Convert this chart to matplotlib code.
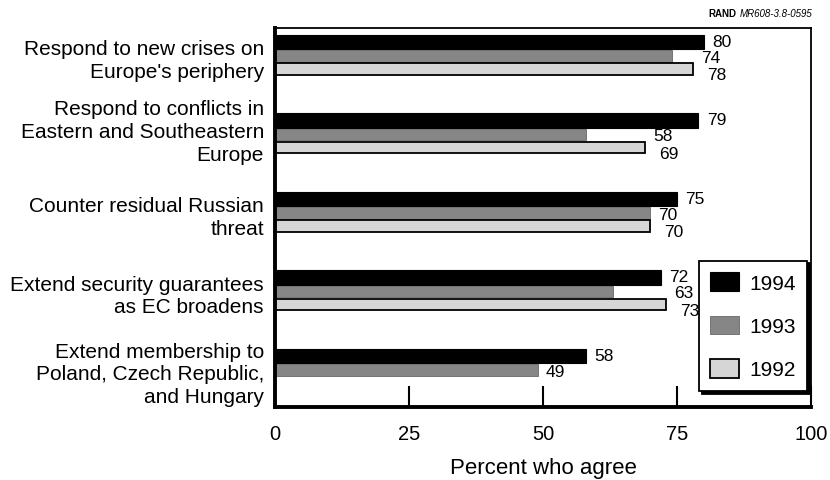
import matplotlib
matplotlib.use("Agg")
import matplotlib.pyplot as plt
import matplotlib.transforms as mtransforms
import numpy as np

plt.rcParams['font.family'] = ['Liberation Sans', 'DejaVu Sans']

categories = [
    "Respond to new crises on\nEurope's periphery",
    "Respond to conflicts in\nEastern and Southeastern\nEurope",
    "Counter residual Russian\nthreat",
    "Extend security guarantees\nas EC broadens",
    "Extend membership to\nPoland, Czech Republic,\nand Hungary",
]
years = ["1994", "1993", "1992"]
v1994 = [80, 79, 75, 72, 58]
v1993 = [74, 58, 70, 63, 49]
v1992 = [78, 69, 70, 73, None]
x_ticks = [0, 25, 50, 75, 100]
x_label = "Percent who agree"
source_bold = "RAND"
source_italic = "MR608-3.8-0595"

fig = plt.figure(figsize=(8.30, 4.81), dpi=100)
ax = fig.add_axes([275/830, 1-408/481, (811-275)/830, (408-29)/481])

y = np.arange(len(categories))
off94, off92 = -0.18, 0.165
h94, h = 0.18, 0.15

ax.barh(y + off94, v1994, height=h94, color='black', edgecolor='black', linewidth=0.8, label=years[0], zorder=2)
ax.barh(y, v1993, height=h, color='#868686', edgecolor='#666666', linewidth=0.6, label=years[1], zorder=2)
y92 = [yy for yy, v in zip(y, v1992) if v is not None]
v92 = [v for v in v1992 if v is not None]
ax.barh(np.array(y92) + off92, v92, height=h, color='#d6d6d6', edgecolor='black', linewidth=1.3, label=years[2], zorder=2)

# value labels
fs_val = 12.5
for i in range(len(categories)):
    ax.annotate(str(v1994[i]), (v1994[i], y[i] + off94), xytext=(6, 0.5), textcoords='offset points',
                ha='left', va='center', fontsize=fs_val)
    anchor = v1993[i] if v1992[i] is None else max(v1993[i], v1992[i])
    ax.annotate(str(v1993[i]), (anchor, y[i]), xytext=(6, -1), textcoords='offset points',
                ha='left', va='center', fontsize=fs_val)
    if v1992[i] is not None:
        ax.annotate(str(v1992[i]), (v1992[i], y[i] + off92), xytext=(10, -4), textcoords='offset points',
                    ha='left', va='center', fontsize=fs_val)

ax.set_xlim(0, 100)
ax.set_ylim(4.47, -0.358)
ax.set_yticks(y)
ax.set_yticklabels(categories, fontsize=15, linespacing=1.25, ha='right')
ax.tick_params(axis='y', length=0, pad=8)
ax.set_xticks(x_ticks)
ax.set_xticklabels([str(t) for t in x_ticks], fontsize=14.5)
ax.tick_params(axis='x', direction='in', length=15, width=1.5, pad=12)
ax.set_xlabel(x_label, fontsize=16, labelpad=10)

lab = ax.get_yticklabels()[1]
lab.set_transform(lab.get_transform() + mtransforms.ScaledTranslation(0, 5/72, fig.dpi_scale_trans))

for side in ['left', 'bottom']:
    ax.spines[side].set_linewidth(2.8)
for side in ['top', 'right']:
    ax.spines[side].set_linewidth(1.3)

leg = ax.legend(loc='upper left', bbox_to_anchor=(0.791, 0.386), borderaxespad=0,
                fontsize=15, handlelength=1.35, handleheight=1.0, handletextpad=0.5,
                labelspacing=1.1, borderpad=0.55, fancybox=False, framealpha=1,
                edgecolor='black', shadow={'color': 'black', 'alpha': 1, 'ox': 2, 'oy': -2})
leg.get_frame().set_linewidth(1.3)

fig.text(812/830, 1-14/481, source_bold, fontsize=7, fontweight='bold', ha='right', va='center')
t = fig.text(812/830, 1-14/481, source_italic, fontsize=7, style='italic', ha='right', va='center')
fig.canvas.draw()
bb = t.get_window_extent()
fig.texts[0].set_position(((bb.x0 - 3)/830, 1-14/481))

fig.savefig("out.png", dpi=100)
